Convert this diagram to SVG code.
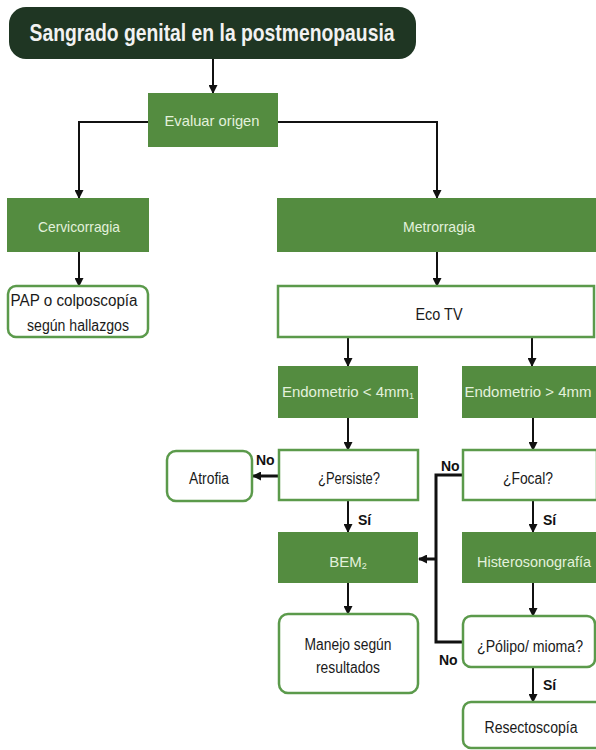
<svg xmlns="http://www.w3.org/2000/svg" width="596" height="750" viewBox="0 0 596 750">
<defs>
<style>
.t{font-family:"Liberation Sans Narrow","Liberation Sans",Arial,sans-serif;}
.g{fill:#548c40;}
.gt{fill:#e3f1dc;font-size:15px;text-anchor:middle;}
.w{fill:#ffffff;stroke:#5b9a4b;stroke-width:2.5;}
.wt{fill:#1a1a1a;font-size:16px;text-anchor:middle;}
.c{fill:none;stroke:#111;stroke-width:2;}
.ct{stroke-width:3;}
.lb{fill:#111;font-size:14px;font-weight:bold;}
</style>
<marker id="ah" markerUnits="userSpaceOnUse" markerWidth="9" markerHeight="9" refX="8" refY="4.5" orient="auto">
<path d="M0,0 L9,4.5 L0,9 z" fill="#111"/>
</marker>
</defs>
<rect width="596" height="750" fill="#ffffff"/>

<g id="connectors">
<line class="c" x1="213" y1="59" x2="213" y2="93" marker-end="url(#ah)"/>
<polyline class="c" points="148,122 79,122 79,198" marker-end="url(#ah)"/>
<polyline class="c" points="278,122 437,122 437,198" marker-end="url(#ah)"/>
<line class="c" x1="79" y1="252" x2="79" y2="286" marker-end="url(#ah)"/>
<line class="c" x1="437" y1="252" x2="437" y2="286" marker-end="url(#ah)"/>
<line class="c" x1="348" y1="337" x2="348" y2="366" marker-end="url(#ah)"/>
<line class="c" x1="532" y1="337" x2="532" y2="366" marker-end="url(#ah)"/>
<line class="c" x1="348" y1="418" x2="348" y2="450" marker-end="url(#ah)"/>
<line class="c" x1="533" y1="418" x2="533" y2="450" marker-end="url(#ah)"/>
<line class="c ct" x1="278" y1="476" x2="253" y2="476" marker-end="url(#ah)"/>
<line class="c" x1="348" y1="500" x2="348" y2="532" marker-end="url(#ah)"/>
<line class="c" x1="533" y1="500" x2="533" y2="532" marker-end="url(#ah)"/>
<polyline class="c ct" points="462,475 436,475 436,642 462,642"/>
<line class="c ct" x1="436" y1="559" x2="419" y2="559" marker-end="url(#ah)"/>
<line class="c" x1="348" y1="583" x2="348" y2="614" marker-end="url(#ah)"/>
<line class="c" x1="533" y1="583" x2="533" y2="616" marker-end="url(#ah)"/>
<line class="c" x1="533" y1="667" x2="533" y2="702" marker-end="url(#ah)"/>
<text class="t lb" x="256" y="465">No</text>
<text class="t lb" x="358" y="525">Sí</text>
<text class="t lb" x="441" y="471">No</text>
<text class="t lb" x="543" y="525">Sí</text>
<text class="t lb" x="439" y="665">No</text>
<text class="t lb" x="543" y="690">Sí</text>
</g>

<g id="title">
<rect x="9" y="7" width="407" height="52" rx="17" fill="#1f3623"/>
<text class="t" x="212" y="41" text-anchor="middle" font-size="24" font-weight="bold" fill="#f2f2f2" textLength="365" lengthAdjust="spacingAndGlyphs">Sangrado genital en la postmenopausia</text>
</g>

<g id="evaluar">
<rect class="g" x="148" y="93" width="130" height="54"/>
<text class="t gt" x="212" y="126" textLength="95" lengthAdjust="spacingAndGlyphs">Evaluar origen</text>
</g>

<g id="cervicorragia">
<rect class="g" x="7" y="198" width="142" height="54"/>
<text class="t gt" x="79" y="232" textLength="82" lengthAdjust="spacingAndGlyphs">Cervicorragia</text>
</g>

<g id="pap">
<rect class="w" x="8" y="286" width="140" height="51" rx="8"/>
<text class="t wt" x="74" y="306" textLength="127" lengthAdjust="spacingAndGlyphs">PAP o colposcopía</text>
<text class="t wt" x="78" y="331" textLength="102" lengthAdjust="spacingAndGlyphs">según hallazgos</text>
</g>

<g id="metrorragia">
<rect class="g" x="277" y="198" width="319" height="54"/>
<text class="t gt" x="439" y="232" textLength="72" lengthAdjust="spacingAndGlyphs">Metrorragia</text>
</g>

<g id="ecotv">
<rect class="w" x="278" y="286" width="316" height="51"/>
<text class="t wt" x="439" y="320" textLength="47" lengthAdjust="spacingAndGlyphs">Eco TV</text>
</g>

<g id="endo-menor">
<rect class="g" x="278" y="366" width="140" height="52"/>
<text class="t gt" x="348" y="397" font-size="14">Endometrio &lt; 4mm<tspan font-size="9" dy="2">1</tspan></text>
</g>

<g id="endo-mayor">
<rect class="g" x="462" y="366" width="134" height="52"/>
<text class="t gt" x="528" y="397" font-size="14">Endometrio &gt; 4mm</text>
</g>

<g id="persiste">
<rect class="w" x="279" y="450" width="139" height="50"/>
<text class="t wt" x="349" y="484" textLength="62" lengthAdjust="spacingAndGlyphs">¿Persiste?</text>
</g>

<g id="atrofia">
<rect class="w" x="167" y="451" width="85" height="50" rx="9"/>
<text class="t wt" x="209" y="484" textLength="40" lengthAdjust="spacingAndGlyphs">Atrofia</text>
</g>

<g id="focal">
<rect class="w" x="463" y="450" width="134" height="50"/>
<text class="t wt" x="528" y="484" textLength="50" lengthAdjust="spacingAndGlyphs">¿Focal?</text>
</g>

<g id="bem">
<rect class="g" x="278" y="532" width="140" height="51"/>
<text class="t gt" x="348" y="567">BEM<tspan font-size="9" dy="2">2</tspan></text>
</g>

<g id="histerosonografia">
<rect class="g" x="462" y="532" width="134" height="51"/>
<text class="t gt" x="534" y="567" textLength="114" lengthAdjust="spacingAndGlyphs">Histerosonografía</text>
</g>

<g id="manejo">
<rect class="w" x="279" y="614" width="139" height="79" rx="9"/>
<text class="t wt" x="348" y="650" textLength="87" lengthAdjust="spacingAndGlyphs">Manejo según</text>
<text class="t wt" x="348" y="673" textLength="64" lengthAdjust="spacingAndGlyphs">resultados</text>
</g>

<g id="polipo">
<rect class="w" x="463" y="616" width="132" height="51" rx="8"/>
<text class="t wt" x="530" y="652" font-size="15" textLength="106" lengthAdjust="spacingAndGlyphs">¿Pólipo/ mioma?</text>
</g>

<g id="resectoscopia">
<rect class="w" x="463" y="702" width="140" height="46" rx="8"/>
<text class="t wt" x="531" y="733" textLength="93" lengthAdjust="spacingAndGlyphs">Resectoscopía</text>
</g>
</svg>
